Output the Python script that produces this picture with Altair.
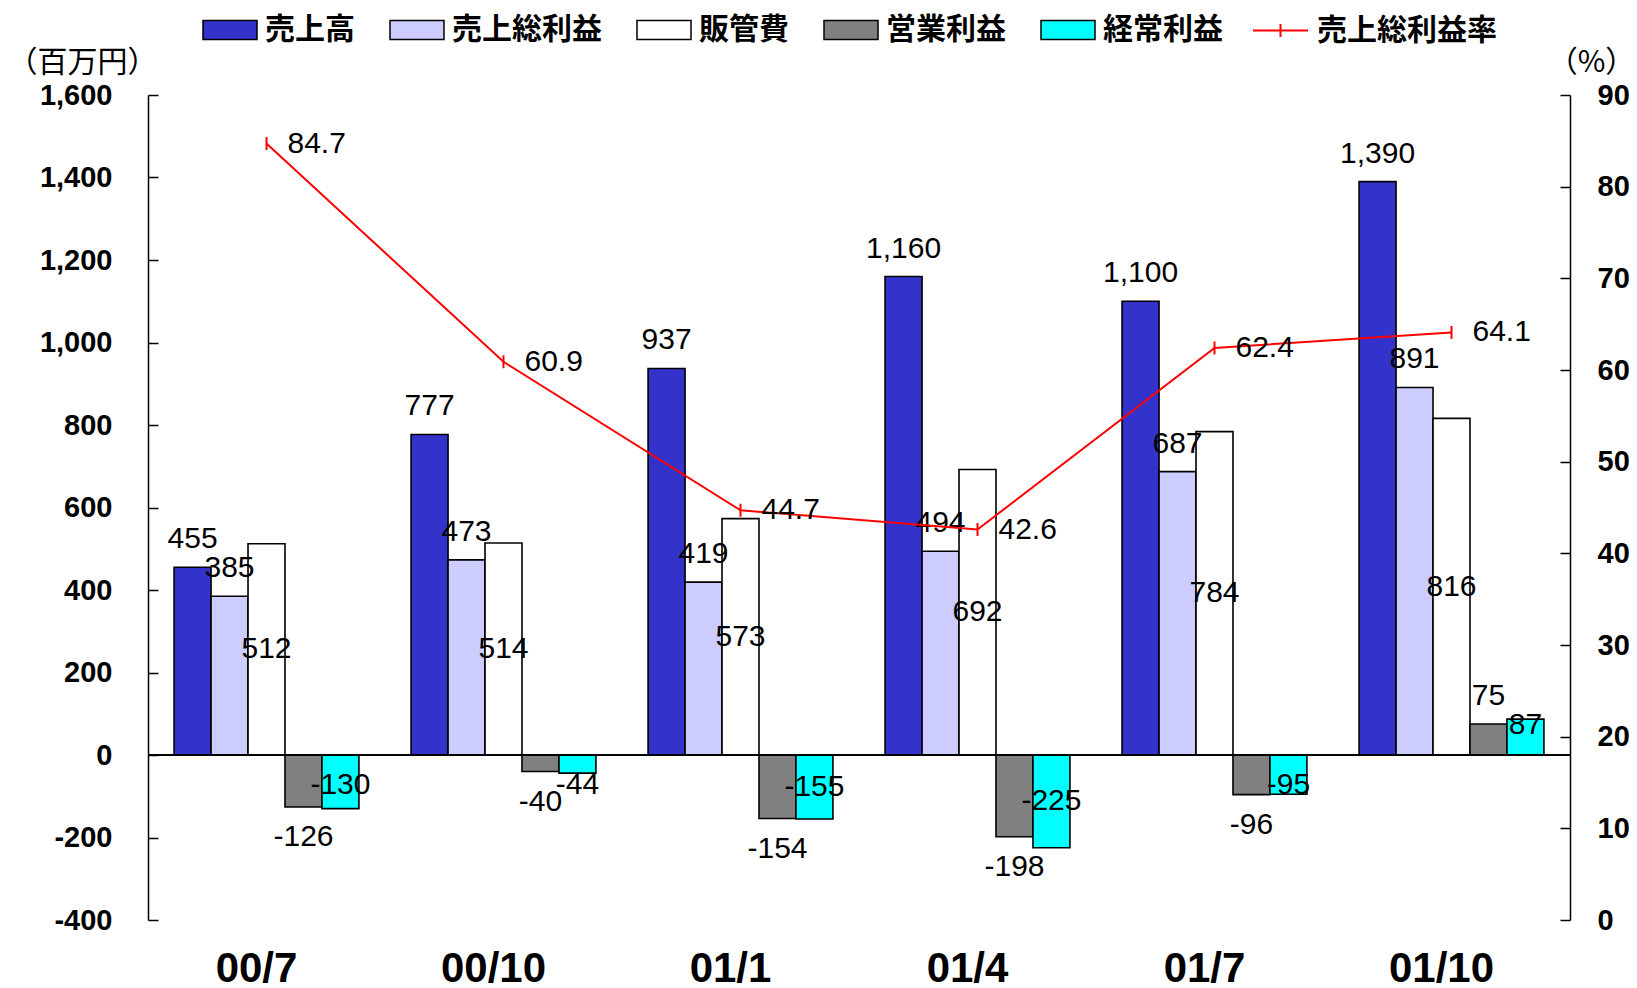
import altair as alt
import pandas as pd

categories = ["00/7", "00/10", "01/1", "01/4", "01/7", "01/10"]
series = ["売上高", "売上総利益", "販管費", "営業利益", "経常利益"]
sales = [455, 777, 937, 1160, 1100, 1390]
gross_profit = [385, 473, 419, 494, 687, 891]
sga = [512, 514, 573, 692, 784, 816]
op_profit = [-126, -40, -154, -198, -96, 75]
ord_profit = [-130, -44, -155, -225, -95, 87]
gross_margin = [84.7, 60.9, 44.7, 42.6, 62.4, 64.1]
line_name = "売上総利益率"
colors = ["#3333CC", "#CCCCFF", "#FFFFFF", "#808080", "#00FFFF"]
left_ticks = [-400, -200, 0, 200, 400, 600, 800, 1000, 1200, 1400, 1600]
right_ticks = [0, 10, 20, 30, 40, 50, 60, 70, 80, 90]

rows = []
for s, vals in zip(series, [sales, gross_profit, sga, op_profit, ord_profit]):
    for c, v in zip(categories, vals):
        rows.append({"cat": c, "series": s, "value": v})
bars_df = pd.DataFrame(rows)
line_df = pd.DataFrame({"cat": categories, "rate": gross_margin, "name": [line_name] * len(categories)})

NUM_FONT = "Liberation Sans"
CJK_FONT = "Noto Sans CJK JP"
HYPHEN_FMT = "(datum.value < 0 ? '-' : '') + format(abs(datum.value), ',')"

x_scale = alt.Scale(paddingInner=0.22, paddingOuter=0.11)
x_axis = alt.Axis(title=None, labelAngle=0, labelFont=NUM_FONT, labelFontSize=42,
                  labelFontWeight="bold", labelColor="black", domain=False, ticks=False,
                  grid=False, labelPadding=28, labelOffset=-10)
x_enc = alt.X("cat:N", sort=categories, scale=x_scale, axis=x_axis)
xoff = alt.XOffset("series:N", sort=series,
                   scale=alt.Scale(domain=series, paddingInner=0, paddingOuter=0))

y_scale = alt.Scale(domain=[-400, 1600], nice=False, zero=False)
y_axis = alt.Axis(values=left_ticks, labelExpr=HYPHEN_FMT, title="（百万円）", titleAngle=0,
                  titleX=-66, titleY=-33, titleAlign="center", titleBaseline="middle",
                  titleFont=CJK_FONT, titleFontSize=30, titleFontWeight="normal",
                  titleColor="black",
                  labelFont=NUM_FONT, labelFontWeight="bold", labelFontSize=29,
                  labelColor="black", labelPadding=36,
                  domainColor="black", domainWidth=1.5, ticks=False,
                  grid=True, gridDash=[10, 4000], gridColor="black", gridWidth=1.5,
                  gridOpacity=1)

bar_base = alt.Chart(bars_df).transform_calculate(
    lbl="(datum.value < 0 ? '-' : '') + format(abs(datum.value), ',')"
)

bars = bar_base.mark_bar(stroke="black", strokeWidth=1.6).encode(
    x=x_enc,
    xOffset=xoff,
    y=alt.Y("value:Q", scale=y_scale, axis=y_axis),
    fill=alt.Fill("series:N", sort=series,
                  scale=alt.Scale(domain=series, range=colors),
                  legend=alt.Legend(orient="none", legendX=54, legendY=-93,
                                    direction="horizontal", columns=5, title=None,
                                    symbolType="M-1,-0.35H1V0.35H-1Z", symbolSize=2916,
                                    symbolStrokeColor="black", symbolStrokeWidth=1.5,
                                    labelFont=CJK_FONT, labelFontSize=30,
                                    labelFontWeight="bold", labelColor="black",
                                    labelOffset=7, columnPadding=32, padding=0,
                                    labelLimit=400)),
)

zero_rule = alt.Chart(bars_df).mark_rule(color="black", strokeWidth=1.5).encode(
    y=alt.datum(0)
)

def text_layer(filter_expr, dy=0, ycalc=None):
    ch = bar_base.transform_filter(filter_expr)
    yfield = "value"
    if ycalc is not None:
        ch = ch.transform_calculate(ly=ycalc)
        yfield = "ly"
    return ch.mark_text(font=NUM_FONT, fontSize=30, color="black",
                        baseline="middle", align="center", dy=dy).encode(
        x=alt.X("cat:N", sort=categories),
        xOffset=xoff,
        y=alt.Y(f"{yfield}:Q"),
        text=alt.Text("lbl:N"),
    )

t_top = text_layer("datum.series == '売上高' || datum.series == '売上総利益' || "
                   "(datum.series == '営業利益' && datum.value > 0)", dy=-28)
t_below = text_layer("datum.series == '営業利益' && datum.value < 0", dy=30)
t_mid = text_layer("datum.series == '販管費'", ycalc="datum.value / 2")
t_ord = text_layer("datum.series == '経常利益'",
                   ycalc="datum.value < 0 ? min(datum.value / 2, -72) : max(datum.value / 2, 72)")

bar_group = alt.layer(bars, zero_rule, t_top, t_below, t_mid, t_ord)

r_axis = alt.Axis(orient="right", values=right_ticks, title="（%）", titleAngle=0,
                  titleX=21, titleY=-33, titleAlign="center", titleBaseline="middle",
                  titleFont=CJK_FONT, titleFontSize=30, titleFontWeight="normal",
                  titleColor="black",
                  labelFont=NUM_FONT, labelFontWeight="bold", labelFontSize=29,
                  labelColor="black", labelPadding=27, labelAlign="left",
                  domainColor="black", domainWidth=1.5, ticks=False,
                  grid=True, gridDash=[10, 4000], gridColor="black", gridWidth=1.5,
                  gridOpacity=1)
r_scale = alt.Scale(domain=[0, 90], nice=False, zero=False)

line_base = alt.Chart(line_df)
line = line_base.mark_line(strokeWidth=2).encode(
    x=alt.X("cat:N", sort=categories),
    y=alt.Y("rate:Q", scale=r_scale, axis=r_axis),
    stroke=alt.Stroke("name:N", scale=alt.Scale(domain=[line_name], range=["#FF0000"]),
                      legend=alt.Legend(orient="none", legendX=1104, legendY=-93,
                                        direction="horizontal", columns=1, title=None,
                                        symbolType="M-1,0H1M0,-0.24V0.24", symbolSize=3025,
                                        symbolStrokeWidth=2, symbolFillColor="transparent",
                                        labelFont=CJK_FONT, labelFontSize=30,
                                        labelFontWeight="bold", labelColor="black",
                                        labelOffset=8, padding=0, labelLimit=400)),
)
markers = line_base.mark_point(shape="M0,-1V1", size=169, stroke="#FF0000",
                               strokeWidth=2, filled=False, opacity=1).encode(
    x=alt.X("cat:N", sort=categories),
    y=alt.Y("rate:Q"),
)
line_labels = line_base.mark_text(font=NUM_FONT, fontSize=30, color="black",
                                  align="left", baseline="middle", dx=21).encode(
    x=alt.X("cat:N", sort=categories),
    y=alt.Y("rate:Q"),
    text=alt.Text("rate:Q", format=".1f"),
)
line_group = alt.layer(line, markers, line_labels)

chart = alt.layer(bar_group, line_group).resolve_scale(
    y="independent"
).properties(
    width=1422, height=825, autosize="none",
    padding={"left": 140, "top": 87, "right": 59, "bottom": 66},
    background="white",
).configure_view(stroke=None)

chart.save("out.html", embed_options={"renderer": "svg", "actions": False})
